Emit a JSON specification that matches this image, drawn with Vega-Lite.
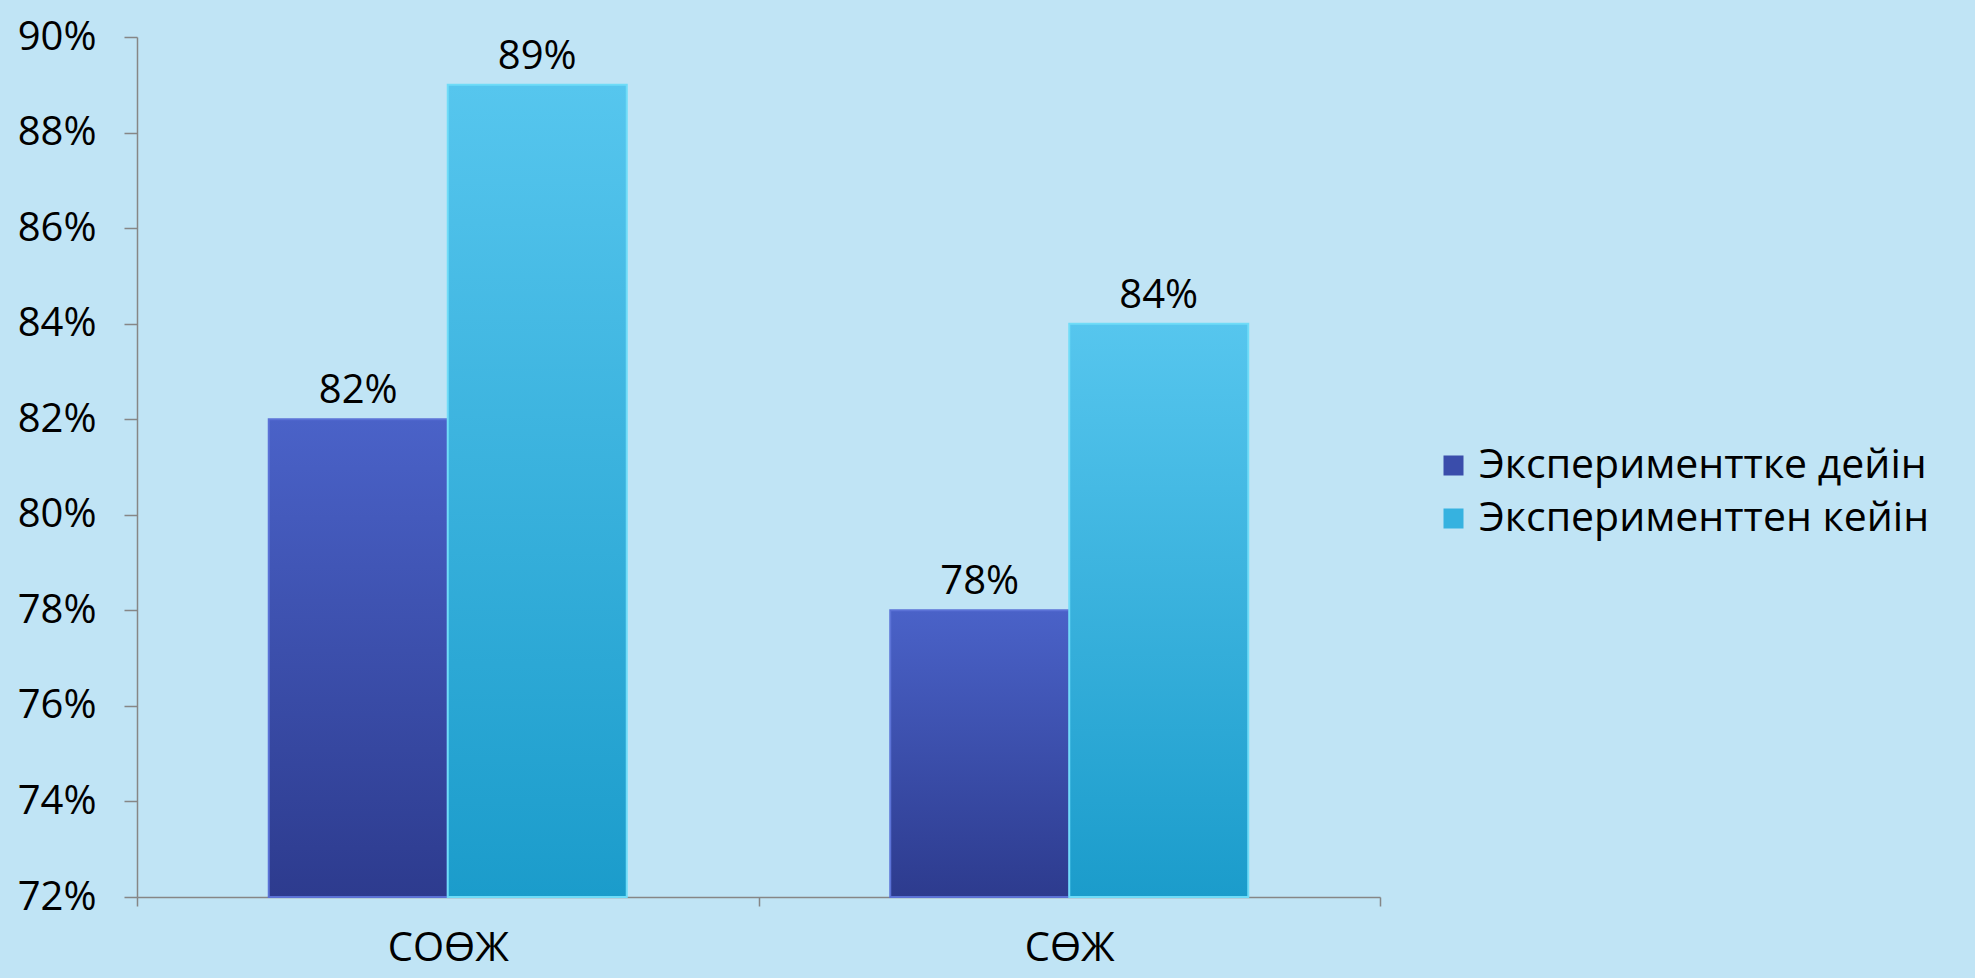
{
  "$schema": "https://vega.github.io/schema/vega-lite/v6.json",
  "autosize": {"type": "none"},
  "width": 1243,
  "height": 860,
  "padding": {"left": 137, "top": 37, "right": 595, "bottom": 81},
  "background": "#c0e4f5",
  "config": {
    "view": {"stroke": null},
    "font": "Open Sans",
    "axis": {"domainColor": "#868686", "tickColor": "#868686", "labelColor": "#000000", "grid": false, "domainWidth": 1.5, "tickWidth": 1.5}
  },
  "data": {
    "values": [
      {"cat": "СОӨЖ", "series": "Эксперименттке дейін", "value": 0.82},
      {"cat": "СОӨЖ", "series": "Эксперименттен кейін", "value": 0.89},
      {"cat": "СӨЖ", "series": "Эксперименттке дейін", "value": 0.78},
      {"cat": "СӨЖ", "series": "Эксперименттен кейін", "value": 0.84}
    ]
  },
  "encoding": {
    "x": {
      "field": "cat", "type": "nominal", "sort": null, "title": null,
      "scale": {"paddingInner": 0, "paddingOuter": 0},
      "axis": {"labelAngle": 0, "labelFontSize": 40, "tickBand": "extent", "tickSize": 9, "labelPadding": 22}
    },
    "xOffset": {"field": "series", "type": "nominal", "sort": null, "scale": {"paddingInner": 0, "paddingOuter": 0.736}},
    "y": {
      "field": "value", "type": "quantitative", "title": null,
      "scale": {"domain": [0.72, 0.9], "zero": false, "nice": false},
      "axis": {"format": ".0%", "values": [0.72, 0.74, 0.76, 0.78, 0.8, 0.82, 0.84, 0.86, 0.88, 0.9], "labelFontSize": 40, "tickSize": 13, "labelPadding": 28}
    }
  },
  "layer": [
    {
      "mark": {"type": "bar", "strokeWidth": 2},
      "encoding": {
        "y2": {"datum": 0.72},
        "color": {
          "field": "series", "type": "nominal", "sort": null, "title": null,
          "scale": {"range": ["#3a4dab", "#36b2e0"]},
          "legend": {
            "orient": "none", "legendX": 1296, "legendY": 408,
            "symbolType": "square", "symbolSize": 400, "labelFontSize": 41,
            "rowPadding": 11, "symbolStrokeWidth": 0, "labelOffset": 5, "labelLimit": 0
          }
        }
      }
    },
    {
      "transform": [{"filter": "datum.series === 'Эксперименттке дейін'"}],
      "mark": {"type": "bar", "strokeWidth": 2, "stroke": "#5b72d6",
        "fill": {"gradient": "linear", "x1": 0, "y1": 0, "x2": 0, "y2": 1, "stops": [{"offset": 0, "color": "#4a62c8"}, {"offset": 1, "color": "#2d3b8e"}]}},
      "encoding": {"y2": {"datum": 0.72}}
    },
    {
      "transform": [{"filter": "datum.series === 'Эксперименттен кейін'"}],
      "mark": {"type": "bar", "strokeWidth": 2, "stroke": "#6fdcf8",
        "fill": {"gradient": "linear", "x1": 0, "y1": 0, "x2": 0, "y2": 1, "stops": [{"offset": 0, "color": "#56c6ee"}, {"offset": 1, "color": "#1b9ccb"}]}},
      "encoding": {"y2": {"datum": 0.72}}
    },
    {
      "mark": {"type": "text", "baseline": "bottom", "dy": -8, "fontSize": 40, "color": "#000000"},
      "encoding": {
        "text": {"field": "value", "type": "quantitative", "format": ".0%"}
      }
    }
  ]
}
